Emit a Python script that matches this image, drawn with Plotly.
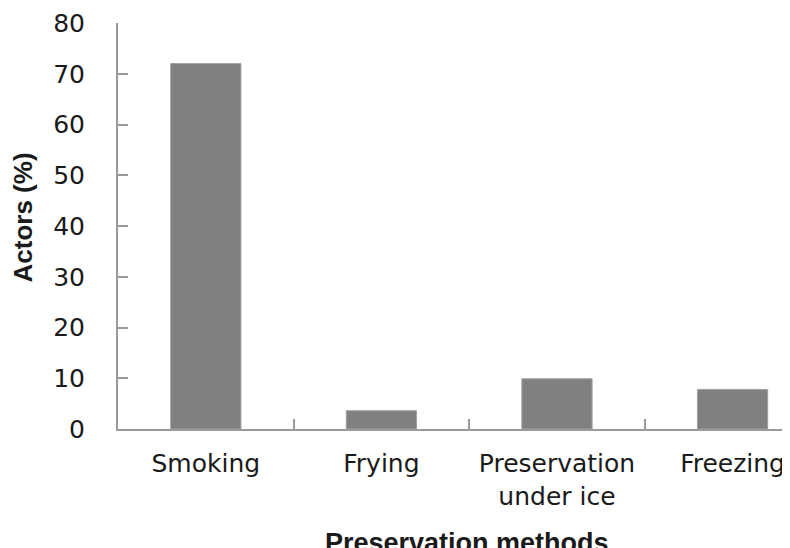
import plotly.graph_objects as go

categories = ["Smoking", "Frying", "Preservation<br>under ice", "Freezing"]
values = [72, 3.6, 9.9, 7.8]
y_ticks = [0, 10, 20, 30, 40, 50, 60, 70, 80]

axis_gray = "#9a9a9a"
tick_font = dict(family="DejaVu Sans", size=25, color="#1a1a1a")

fig = go.Figure(go.Bar(
    x=categories, y=values,
    marker=dict(color="#808080", line=dict(color="#a0a0a0", width=1)),
    width=0.4,
))

fig.update_layout(
    width=782, height=540,
    margin=dict(l=110, r=0, t=15, b=119),
    paper_bgcolor="white", plot_bgcolor="white",
    showlegend=False,
)

fig.update_xaxes(
    type="category",
    range=[-0.5, 3.327],
    showline=True, linecolor=axis_gray, linewidth=2,
    ticks="inside", tickson="boundaries", ticklen=10, tickcolor=axis_gray, tickwidth=2,
    tickfont=tick_font,
    ticklabelstandoff=11,
    showgrid=False, zeroline=False,
)

fig.update_yaxes(
    range=[0, 80],
    tickvals=y_ticks,
    showline=True, linecolor=axis_gray, linewidth=2,
    ticks="inside", ticklen=10, tickcolor=axis_gray, tickwidth=2,
    tickfont=tick_font,
    ticklabelstandoff=26,
    showgrid=False, zeroline=False,
)

fig.add_annotation(
    text="<b>Actors (%)</b>", textangle=-90,
    xref="paper", yref="paper", x=-0.1414, y=0.521,
    xanchor="center", yanchor="middle", showarrow=False,
    font=dict(family="Liberation Sans", size=26, color="#1a1a1a"),
)

fig.add_annotation(
    text="<b>Preservation methods</b>",
    xref="paper", yref="paper", x=0.519, y=-0.239,
    xanchor="center", yanchor="top", showarrow=False,
    font=dict(family="Liberation Sans", size=27, color="#1a1a1a"),
)

fig.write_html("out.html")
